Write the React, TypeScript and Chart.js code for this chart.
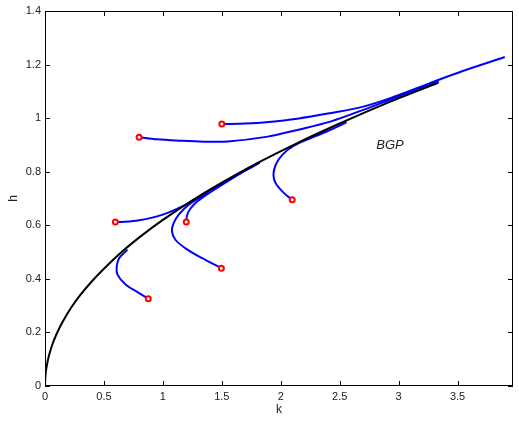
import React, { useEffect, useRef } from 'react';
import { Chart, registerables } from 'chart.js';

Chart.register(...registerables);

const xTicks = [0, 0.5, 1, 1.5, 2, 2.5, 3, 3.5];
const yTicks = [0, 0.2, 0.4, 0.6, 0.8, 1, 1.2, 1.4];
const xMin = 0;
const xMax = 3.97;
const yMin = 0;
const yMax = 1.4;
const xTitle = 'k';
const yTitle = 'h';
const bgpLabel = 'BGP';
const bgpLabelK = 2.81;
const bgpLabelH = 0.9;

// balanced growth path
const bgpK = [0, 0.003, 0.01, 0.03, 0.06, 0.1, 0.15, 0.22, 0.3, 0.4, 0.5, 0.65, 0.8, 1.0, 1.25, 1.5, 1.8, 2.14, 2.5, 2.9, 3.335];
const bgpH = [0, 0.034, 0.062, 0.107, 0.152, 0.196, 0.24, 0.291, 0.34, 0.392, 0.438, 0.5, 0.555, 0.62, 0.693, 0.759, 0.832, 0.907, 0.98, 1.056, 1.132];

// transition paths
const t1K = [1.5, 1.7, 1.9, 2.14, 2.4, 2.7, 2.98, 3.26, 3.55, 3.9];
const t1H = [0.978, 0.98, 0.986, 0.998, 1.017, 1.043, 1.083, 1.13, 1.177, 1.228];

const t2K = [0.798, 0.95, 1.13, 1.35, 1.55, 1.89, 2.14, 2.42, 2.7, 2.98, 3.26, 3.34];
const t2H = [0.929, 0.921, 0.916, 0.912, 0.913, 0.931, 0.956, 0.987, 1.031, 1.078, 1.124, 1.136];

const t3K = [2.097, 2.028, 1.957, 1.938, 1.957, 2.013, 2.111, 2.25, 2.39, 2.558];
const t3H = [0.695, 0.72, 0.757, 0.788, 0.826, 0.863, 0.897, 0.925, 0.95, 0.984];

const t4K = [1.496, 1.329, 1.189, 1.106, 1.077, 1.091, 1.133, 1.217, 1.329, 1.469, 1.65, 1.82];
const t4H = [0.44, 0.478, 0.515, 0.546, 0.577, 0.608, 0.639, 0.676, 0.707, 0.745, 0.793, 0.834];

const t5K = [1.198, 1.203, 1.217, 1.259, 1.329, 1.469, 1.65, 1.82];
const t5H = [0.612, 0.633, 0.651, 0.676, 0.701, 0.742, 0.792, 0.833];

const t6K = [0.597, 0.714, 0.854, 0.993, 1.133, 1.273, 1.469, 1.65, 1.82];
const t6H = [0.612, 0.614, 0.623, 0.639, 0.664, 0.695, 0.744, 0.793, 0.835];

const t7K = [0.876, 0.798, 0.686, 0.616, 0.608, 0.63, 0.7];
const t7H = [0.326, 0.347, 0.378, 0.415, 0.446, 0.478, 0.509];

const startK = [1.5, 0.798, 2.097, 1.496, 1.198, 0.597, 0.876];
const startH = [0.978, 0.929, 0.695, 0.44, 0.612, 0.612, 0.326];

const paths: [number[], number[]][] = [
  [t1K, t1H],
  [t2K, t2H],
  [t3K, t3H],
  [t4K, t4H],
  [t5K, t5H],
  [t6K, t6H],
  [t7K, t7H],
];

const pts = (ks: number[], hs: number[]) => ks.map((k, i) => ({ x: k, y: hs[i] }));

const FONT = "'Liberation Sans', Arial, Helvetica, sans-serif";
const TEXT = '#222222';

const framePlugin = {
  id: 'matlabFrame',
  afterDatasetsDraw(chart: any) {
    const { ctx, chartArea } = chart;
    const xs = chart.scales.x;
    const ys = chart.scales.y;
    const { left, right, top, bottom } = chartArea;
    ctx.save();
    ctx.strokeStyle = '#000000';
    ctx.lineWidth = 1;
    ctx.strokeRect(left + 0.5, top + 0.5, right - left - 1, bottom - top - 1);
    const len = 5;
    ctx.beginPath();
    for (const v of xTicks) {
      const p = Math.round(xs.getPixelForValue(v)) + 0.5;
      ctx.moveTo(p, bottom);
      ctx.lineTo(p, bottom - len);
      ctx.moveTo(p, top);
      ctx.lineTo(p, top + len);
    }
    for (const v of yTicks) {
      const p = Math.round(ys.getPixelForValue(v)) + 0.5;
      ctx.moveTo(left, p);
      ctx.lineTo(left + len, p);
      ctx.moveTo(right, p);
      ctx.lineTo(right - len, p);
    }
    ctx.stroke();
    ctx.fillStyle = TEXT;
    ctx.font = `italic 13px ${FONT}`;
    ctx.textAlign = 'left';
    ctx.textBaseline = 'middle';
    ctx.fillText(bgpLabel, xs.getPixelForValue(bgpLabelK), ys.getPixelForValue(bgpLabelH));
    ctx.restore();
  },
};

export default function App() {
  const ref = useRef<HTMLCanvasElement | null>(null);
  useEffect(() => {
    if (!ref.current) return;
    const datasets: any[] = [];
    datasets.push({
      label: 'start',
      data: pts(startK, startH),
      showLine: false,
      pointRadius: 2.5,
      pointBorderWidth: 2,
      pointBorderColor: '#ff0000',
      pointBackgroundColor: '#ffffff',
      order: 0,
    });
    datasets.push({
      label: 'BGP',
      data: pts(bgpK, bgpH),
      borderColor: '#000000',
      borderWidth: 2,
      pointRadius: 0,
      tension: 0.3,
      fill: false,
      order: 1,
    });
    paths.forEach(([ks, hs], i) => {
      datasets.push({
        label: 'path' + i,
        data: pts(ks, hs),
        borderColor: '#0000ff',
        borderWidth: 2,
        pointRadius: 0,
        tension: 0.35,
        fill: false,
        order: 2,
      });
    });
    const chart = new Chart(ref.current, {
      type: 'line',
      data: { datasets },
      options: {
        responsive: false,
        animation: false,
        layout: { padding: { top: 11, right: 1, left: 0, bottom: 0 } },
        plugins: { legend: { display: false }, tooltip: { enabled: false } },
        scales: {
          x: {
            type: 'linear',
            min: xMin,
            max: xMax,
            afterBuildTicks: (s: any) => {
              s.ticks = xTicks.map((v) => ({ value: v }));
            },
            afterFit: (s: any) => {
              s.height = 35;
              s.paddingLeft = 0;
              s.paddingRight = 0;
            },
            grid: { display: false, drawTicks: false },
            border: { display: false },
            ticks: {
              padding: 4,
              maxRotation: 0,
              autoSkip: false,
              color: TEXT,
              font: { family: FONT, size: 11 },
              callback: (v: any) => String(v),
            },
            title: {
              display: true,
              text: xTitle,
              color: TEXT,
              font: { family: FONT, size: 12 },
              padding: { top: 0, bottom: 4 },
            },
          },
          y: {
            type: 'linear',
            min: yMin,
            max: yMax,
            afterBuildTicks: (s: any) => {
              s.ticks = yTicks.map((v) => ({ value: v }));
            },
            afterFit: (s: any) => {
              s.width = 45;
              s.paddingTop = 0;
              s.paddingBottom = 0;
            },
            grid: { display: false, drawTicks: false },
            border: { display: false },
            ticks: {
              padding: 4,
              autoSkip: false,
              color: TEXT,
              font: { family: FONT, size: 11 },
              callback: (v: any) => String(v),
            },
            title: {
              display: true,
              text: yTitle,
              color: TEXT,
              font: { family: FONT, size: 12 },
              padding: { top: 6, bottom: 0 },
            },
          },
        },
      },
      plugins: [framePlugin],
    });
    return () => chart.destroy();
  }, []);
  return (
    <div style={{ position: 'absolute', left: 0, top: 0, width: 519, height: 421, background: '#fff' }}>
      <canvas ref={ref} width={519} height={421} style={{ display: 'block' }} />
    </div>
  );
}
